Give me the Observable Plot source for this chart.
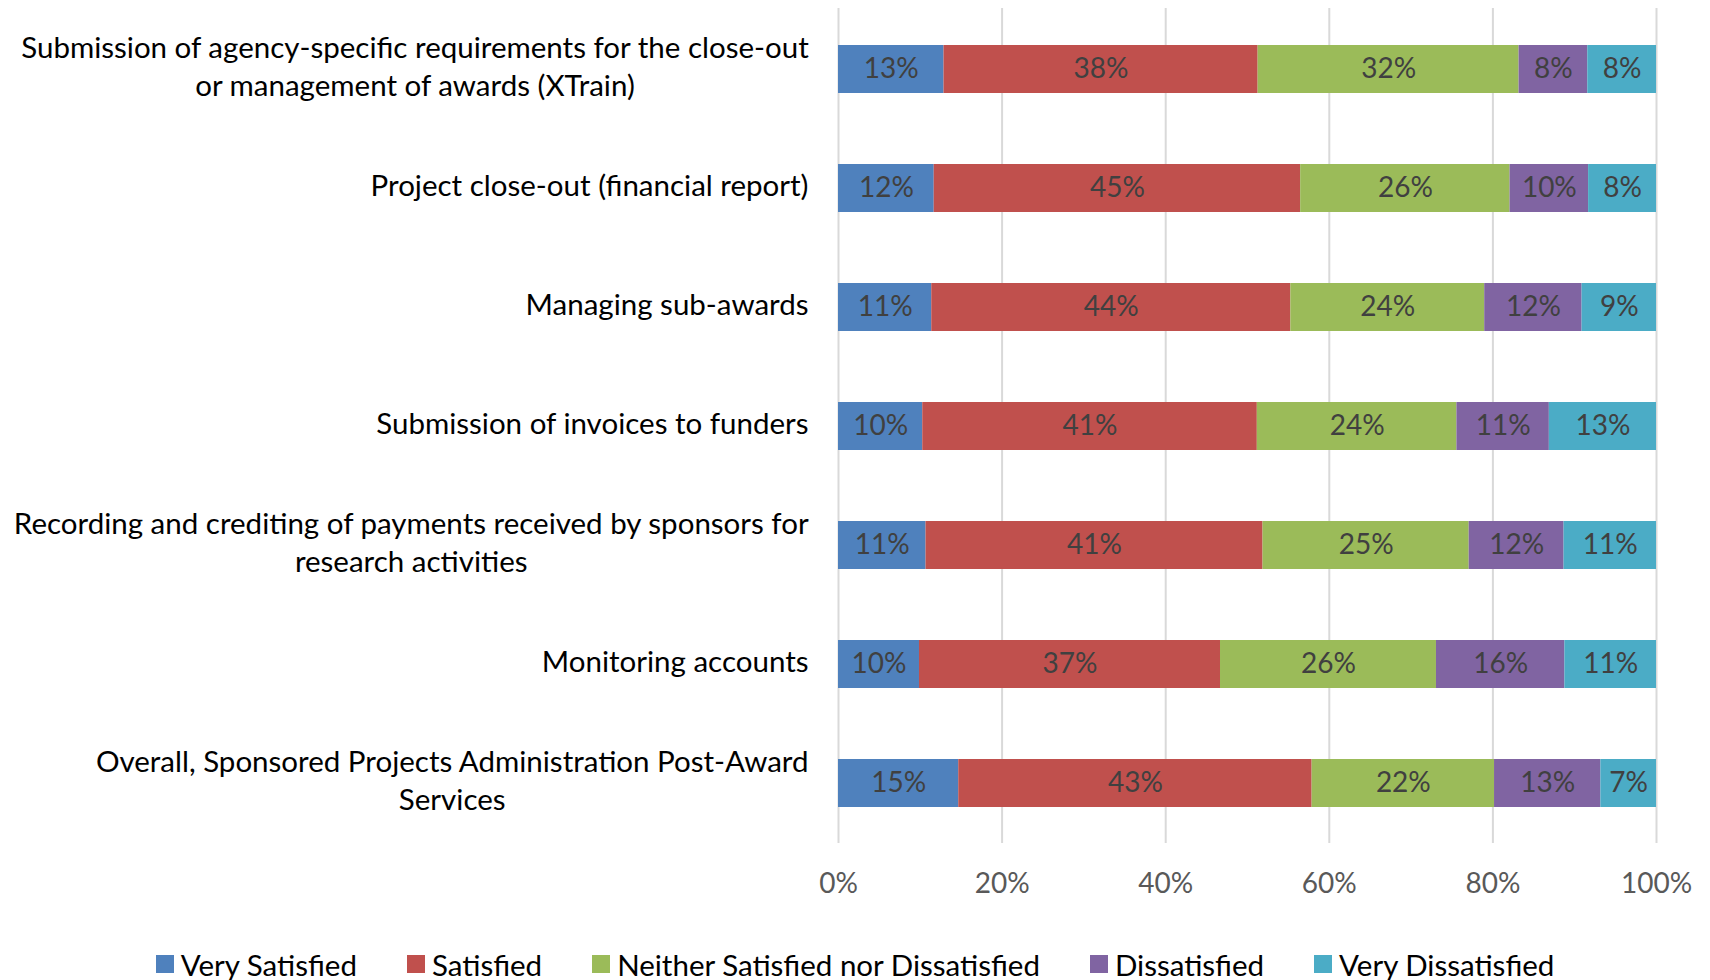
<!DOCTYPE html>
<html>
<head>
<meta charset="utf-8">
<script src="https://cdn.jsdelivr.net/npm/d3@7"></script>
<script src="https://cdn.jsdelivr.net/npm/@observablehq/plot@0.6"></script>
<style>
  html, body { margin: 0; padding: 0; background: #fff; }
  body { font-family: Lato, "Open Sans", sans-serif; width: 1710px; }
  #chart svg { display: block; }
  #legend { display: flex; justify-content: center; align-items: center; gap: 50px; height: 68px; font-size: 29.5px; color: #000; }
  .item { display: flex; align-items: center; gap: 7px; }
  .sw { width: 18px; height: 18px; display: inline-block; }
</style>
</head>
<body>
<div id="chart"></div>
<div id="legend"></div>
<script>
const categories = [
  "Submission of agency-specific requirements for the close-out\nor management of awards (XTrain)",
  "Project close-out (financial report)",
  "Managing sub-awards",
  "Submission of invoices to funders",
  "Recording and crediting of payments received by sponsors for\nresearch activities",
  "Monitoring accounts",
  "Overall, Sponsored Projects Administration Post-Award\nServices"
];
const levels = ["Very Satisfied", "Satisfied", "Neither Satisfied nor Dissatisfied", "Dissatisfied", "Very Dissatisfied"];
const colors = ["#4F81BD", "#C0504D", "#9BBB59", "#8064A2", "#4BACC6"];

const verySatisfied    = [12.9, 11.7, 11.4, 10.3, 10.7,  9.9, 14.7];
const satisfied        = [38.4, 44.8, 43.9, 40.9, 41.2, 36.8, 43.2];
const neither          = [31.9, 25.6, 23.7, 24.4, 25.2, 26.4, 22.3];
const dissatisfied     = [ 8.4,  9.6, 11.9, 11.3, 11.6, 15.7, 13.0];
const veryDissatisfied = [ 8.4,  8.3,  9.1, 13.1, 11.3, 11.2,  6.8];

const xTicks = [0, 20, 40, 60, 80, 100];

const series = [verySatisfied, satisfied, neither, dissatisfied, veryDissatisfied];
const data = [];
categories.forEach((c, i) => {
  levels.forEach((l, j) => data.push({category: c, level: l, value: series[j][i]}));
});

const chart = Plot.plot({
  width: 1710,
  height: 930,
  marginTop: 8,
  marginBottom: 87,
  marginLeft: 838,
  marginRight: 54,
  style: {fontFamily: "Lato, 'Open Sans', sans-serif", background: "#fff"},
  x: {domain: [0, 100], ticks: xTicks, tickFormat: d => d + "%"},
  y: {domain: categories, paddingInner: 0.6, paddingOuter: 0.3},
  color: {domain: levels, range: colors},
  marks: [
    Plot.gridX(xTicks, {stroke: "#d9d9d9", strokeOpacity: 1, strokeWidth: 2}),
    Plot.barX(data, Plot.stackX({x: "value", y: "category", fill: "level"})),
    Plot.text(data, Plot.stackX({x: "value", y: "category", z: "level",
      text: d => Math.round(d.value) + "%", fill: "#404040", fontSize: 28})),
    Plot.axisX(xTicks, {tickSize: 0, tickPadding: 30, fontSize: 28, color: "#595959", label: null,
      tickFormat: d => d + "%"}),
    Plot.axisY({tickSize: 0, tickPadding: 30, fontSize: 29.5, lineHeight: 1.32, dy: -5, color: "#000", label: null})
  ]
});
document.getElementById("chart").append(chart);

// center multi-line category labels like the original
chart.querySelectorAll('g[aria-label="y-axis tick label"] text').forEach(t => {
  const spans = t.querySelectorAll("tspan");
  if (spans.length < 2) return;
  const bb = t.getBBox();
  t.setAttribute("text-anchor", "middle");
  spans.forEach(s => s.setAttribute("x", bb.x + bb.width / 2));
});

const legend = document.getElementById("legend");
levels.forEach((l, j) => {
  const item = document.createElement("div");
  item.className = "item";
  const sw = document.createElement("span");
  sw.className = "sw";
  sw.style.background = colors[j];
  const tx = document.createElement("span");
  tx.textContent = l;
  item.append(sw, tx);
  legend.append(item);
});
</script>
</body>
</html>
